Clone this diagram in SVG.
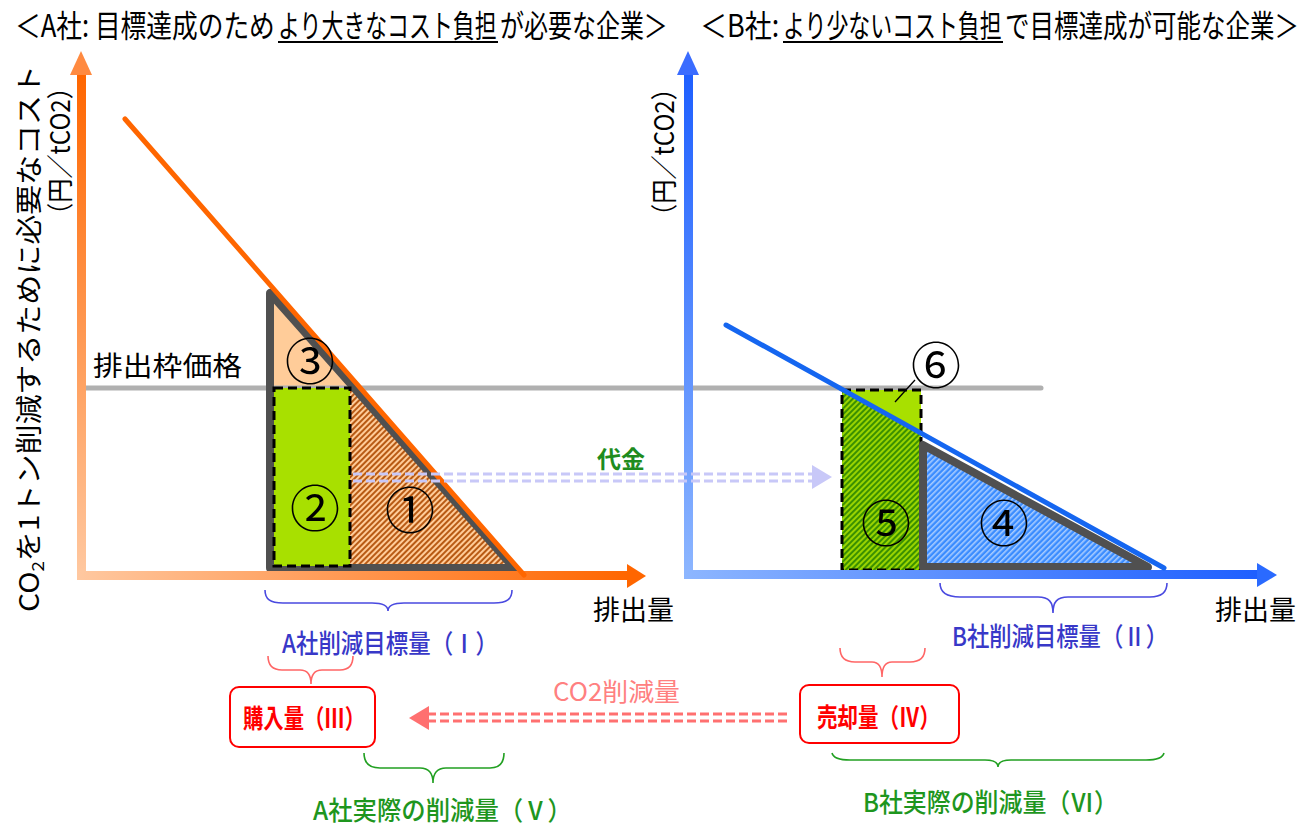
<svg xmlns="http://www.w3.org/2000/svg" width="1315" height="827" viewBox="0 0 1315 827">
<style>
text{font-family:"Noto Sans CJK JP","Noto Sans",sans-serif;}
.title{font-size:31px;fill:#000;}
.axl{font-size:27px;fill:#000;}
.num{font-size:50px;fill:#000;text-anchor:middle;}
.blue{font-size:26px;fill:#3838C8;font-weight:500;}
.green{font-size:26px;fill:#1E961E;font-weight:500;}
.red{font-size:26px;fill:#FF0000;font-weight:bold;}
.tri{fill:none;stroke:#505050;stroke-width:8;stroke-linejoin:round;}
.grect{fill:#A8E000;stroke:#000;stroke-width:3;stroke-dasharray:9 5;}
.bracetB{fill:none;stroke:#4A4AE0;stroke-width:1.6;}
.bracetR{fill:none;stroke:#FF6666;stroke-width:1.6;}
.bracetG{fill:none;stroke:#22A022;stroke-width:1.6;}
.box{fill:#fff;stroke:#FF0000;stroke-width:2;}
</style>
<defs>
<linearGradient id="gOrV" x1="0" y1="1" x2="0" y2="0"><stop offset="0" stop-color="#FFC8A0"/><stop offset="1" stop-color="#FF6600"/></linearGradient>
<linearGradient id="gOrH" x1="0" y1="0" x2="1" y2="0"><stop offset="0" stop-color="#FFC8A0"/><stop offset="1" stop-color="#FF6600"/></linearGradient>
<linearGradient id="gBlV" x1="0" y1="1" x2="0" y2="0"><stop offset="0" stop-color="#8DB6FF"/><stop offset="1" stop-color="#1E5FFF"/></linearGradient>
<linearGradient id="gBlH" x1="0" y1="0" x2="1" y2="0"><stop offset="0" stop-color="#8DB6FF"/><stop offset="1" stop-color="#1E5FFF"/></linearGradient>
<pattern id="hO" patternUnits="userSpaceOnUse" width="4" height="4" patternTransform="rotate(45)"><rect width="4" height="4" fill="#FFCC99"/><rect width="2" height="4" fill="#B85A14"/></pattern>
<pattern id="hB" patternUnits="userSpaceOnUse" width="4" height="4" patternTransform="rotate(45)"><rect width="4" height="4" fill="#3A8CFF"/><rect width="1.6" height="4" fill="#A8CCFF"/></pattern>
<pattern id="hG" patternUnits="userSpaceOnUse" width="4" height="4" patternTransform="rotate(45)"><rect width="4" height="4" fill="#9AD400"/><rect width="2" height="4" fill="#3A9000"/></pattern>
</defs>

<g id="titles">
<text class="title" transform="translate(15,37) scale(0.83,1)" textLength="313" lengthAdjust="spacingAndGlyphs">＜A社: 目標達成のため</text>
<text class="title" transform="translate(278,37) scale(0.71,1)" textLength="308" lengthAdjust="spacingAndGlyphs">より大きなコスト負担</text>
<line x1="278" y1="42" x2="498" y2="42" stroke="#000" stroke-width="2"/>
<text class="title" transform="translate(500,37) scale(0.77,1)" textLength="218" lengthAdjust="spacingAndGlyphs">が必要な企業＞</text>
<text class="title" transform="translate(700,37) scale(0.9,1)" textLength="88" lengthAdjust="spacingAndGlyphs">＜B社:</text>
<text class="title" transform="translate(783,37) scale(0.71,1)" textLength="308" lengthAdjust="spacingAndGlyphs">より少ないコスト負担</text>
<line x1="783" y1="42" x2="1003" y2="42" stroke="#000" stroke-width="2"/>
<text class="title" transform="translate(1005,37) scale(0.79,1)" textLength="372" lengthAdjust="spacingAndGlyphs">で目標達成が可能な企業＞</text>
</g>

<g id="axis-labels">
<text class="axl" transform="translate(39,612) rotate(-90)" textLength="547" lengthAdjust="spacingAndGlyphs">CO<tspan font-size="17" dy="5">2</tspan><tspan dy="-5">を1トン削減するために必要なコスト</tspan></text>
<text class="axl" transform="translate(70,75) rotate(-90)" text-anchor="end" textLength="152" lengthAdjust="spacingAndGlyphs">（円／tCO2）</text>
<text class="axl" transform="translate(674,228) rotate(-90)" textLength="152" lengthAdjust="spacingAndGlyphs">（円／tCO2）</text>
<text class="axl" x="593" y="620" font-size="30">排出量</text>
<text class="axl" x="1215" y="620" font-size="30">排出量</text>
<text class="axl" x="93" y="376" font-size="30" textLength="149" lengthAdjust="spacingAndGlyphs">排出枠価格</text>
</g>

<g id="chartA">
<polygon points="270,293 270,568 514,568" fill="#FFCC99"/>
<polygon points="350,390 356,390 514,568 350,568" fill="url(#hO)"/>
<line x1="85" y1="388" x2="1041" y2="388" stroke="#B0B0B0" stroke-width="5" stroke-linecap="round"/>
<polygon class="tri" points="270,293 270,568 514,568"/>
<rect class="grect" x="274" y="388" width="76" height="178"/>
<rect x="77" y="74" width="9" height="502" fill="url(#gOrV)"/>
<polygon points="81,51 70,75 92,75" fill="#FF8A40"/>
<rect x="77" y="571" width="551" height="9" fill="url(#gOrH)"/>
<polygon points="646,576 627,564 627,588" fill="#FF6600"/>
<line x1="125" y1="119" x2="524" y2="575" stroke="#FF6600" stroke-width="5" stroke-linecap="round"/>
</g>

<g id="chartB">
<polygon points="923,445 923,567 1148,567" fill="url(#hB)"/>
<rect x="842" y="390" width="79" height="180" fill="#A8E000"/>
<polygon points="842,390 921,434 921,570 842,570" fill="url(#hG)"/>
<rect x="842" y="390" width="79" height="180" fill="none" stroke="#000" stroke-width="3" stroke-dasharray="9 5"/>
<polygon class="tri" points="923,445 923,567 1148,567"/>
<rect x="684" y="74" width="9" height="502" fill="url(#gBlV)"/>
<polygon points="688,51 677,75 699,75" fill="#3A6CFF"/>
<rect x="684" y="570" width="574" height="9" fill="url(#gBlH)"/>
<polygon points="1277,575 1257,563 1257,587" fill="#2A6AFF"/>
<line x1="726" y1="325" x2="1164" y2="568" stroke="#1566F0" stroke-width="5" stroke-linecap="round"/>
<line x1="915" y1="380" x2="895" y2="402" stroke="#000" stroke-width="1.3"/>
</g>

<g id="numbers">
<text class="num" x="310" y="380">③</text>
<text class="num" x="315" y="527">②</text>
<text class="num" x="410" y="529">①</text>
<text class="num" x="936" y="384">⑥</text>
<text class="num" x="886" y="542">⑤</text>
<text class="num" x="1004" y="542">④</text>
</g>

<g id="connectors">
<line x1="353" y1="474" x2="814" y2="474" stroke="#C8C8F8" stroke-width="3" stroke-dasharray="9 4"/>
<line x1="353" y1="481" x2="814" y2="481" stroke="#C8C8F8" stroke-width="3" stroke-dasharray="9 4"/>
<polygon points="832,477 812,465 812,489" fill="#C8C8F8"/>
<line x1="787" y1="714" x2="427" y2="714" stroke="#FF7070" stroke-width="3" stroke-dasharray="9 4"/>
<line x1="787" y1="721" x2="427" y2="721" stroke="#FF7070" stroke-width="3" stroke-dasharray="9 4"/>
<polygon points="409,718 429,706 429,730" fill="#FF7070"/>
</g>
<text x="597" y="468" font-size="24" font-weight="bold" fill="#1E8C1E">代金</text>
<text x="553" y="701" font-size="25" fill="#FF8080" textLength="127" lengthAdjust="spacingAndGlyphs">CO2削減量</text>

<g id="braces">
<path class="bracetB" d="M265 590 C265 599 270 603 283 603 L372 603 C383 603 388 606 388 611 C388 606 393 603 404 603 L494 603 C507 603 512 599 512 590"/>
<path class="bracetR" d="M268 656 C268 665 272 670 282 670 L300 670 C308 670 311 675 311 684 C311 675 314 670 322 670 L340 670 C349 670 353 665 353 656"/>
<path class="bracetG" d="M364 753 C364 762 368 768 380 768 L420 768 C429 768 433 773 433 783 C433 773 437 768 446 768 L490 768 C500 768 504 762 504 753"/>
<path class="bracetB" d="M940 583 C940 592 946 597 960 597 L1038 597 C1049 597 1053 602 1053 613 C1053 602 1057 597 1068 597 L1150 597 C1162 597 1167 592 1167 583"/>
<path class="bracetR" d="M840 648 C840 657 844 662 855 662 L872 662 C879 662 882 668 882 677 C882 668 885 662 892 662 L910 662 C920 662 925 657 925 648"/>
<path class="bracetG" d="M832 753 C833 757 838 760 850 760 L985 760 C994 760 998 763 998 767 C998 763 1002 760 1011 760 L1146 760 C1158 760 1163 757 1164 753"/>
</g>

<g id="labels">
<text class="blue" x="282" y="653" textLength="216" lengthAdjust="spacingAndGlyphs">A社削減目標量（Ⅰ）</text>
<text class="blue" x="952" y="646" textLength="216" lengthAdjust="spacingAndGlyphs">B社削減目標量（Ⅱ）</text>
<text class="green" x="313" y="820" textLength="259" lengthAdjust="spacingAndGlyphs">A社実際の削減量（Ⅴ）</text>
<text class="green" x="863" y="812" textLength="255" lengthAdjust="spacingAndGlyphs">B社実際の削減量（Ⅵ）</text>
</g>

<g id="box-purchase">
<rect class="box" x="230" y="687" width="145" height="60" rx="9"/>
<text class="red" x="243" y="728" textLength="122" lengthAdjust="spacingAndGlyphs">購入量（Ⅲ）</text>
</g>
<g id="box-sale">
<rect class="box" x="800" y="685" width="159" height="58" rx="9"/>
<text class="red" x="817" y="727" textLength="123" lengthAdjust="spacingAndGlyphs">売却量（Ⅳ）</text>
</g>
</svg>
